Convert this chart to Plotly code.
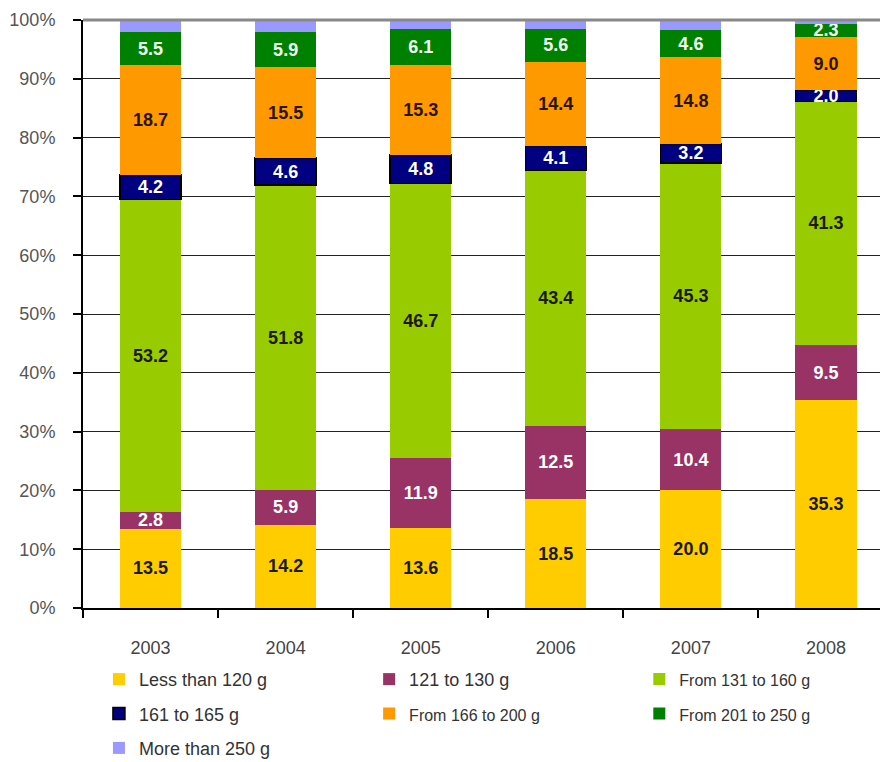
import plotly.graph_objects as go

years = ['2003', '2004', '2005', '2006', '2007', '2008']
less_120 = [13.5, 14.2, 13.6, 18.5, 20.0, 35.3]
g121_130 = [2.8, 5.9, 11.9, 12.5, 10.4, 9.5]
g131_160 = [53.2, 51.8, 46.7, 43.4, 45.3, 41.3]
g161_165 = [4.2, 4.6, 4.8, 4.1, 3.2, 2.0]
g166_200 = [18.7, 15.5, 15.3, 14.4, 14.8, 9.0]
g201_250 = [5.5, 5.9, 6.1, 5.6, 4.6, 2.3]
more_250 = [2.1, 2.1, 1.6, 1.5, 1.7, 0.6]

FONT = "Arial, Liberation Sans, sans-serif"
BIG = 18
SMALL = 16

series = [
    # name, values, fill, text colour, legend, font size, label?
    ("Less than 120 g", less_120, "#FFCC00", "#1a1a1a", "legend", BIG, True),
    ("121 to 130 g", g121_130, "#993366", "#ffffff", "legend2", BIG, True),
    ("From 131 to 160 g", g131_160, "#99CC00", "#1a1a00", "legend3", SMALL, True),
    ("161 to 165 g", g161_165, "#000080", "#ffffff", "legend", BIG, True),
    ("From 166 to 200 g", g166_200, "#FF9900", "#2a1400", "legend2", SMALL, True),
    ("From 201 to 250 g", g201_250, "#008000", "#f0fff0", "legend3", SMALL, True),
    ("More than 250 g", more_250, "#9999FF", "#000000", "legend", BIG, False),
]

fig = go.Figure()
for i, (name, vals, col, tcol, leg, fs, lab) in enumerate(series):
    is_navy = name.startswith("161")
    fig.add_trace(go.Bar(
        x=years, y=vals,
        name=f"<span style='font-size:{fs}px'>{name}</span>",
        legend=leg, legendgroup=f"g{i}",
        marker=dict(color=col,
                    line=dict(color="#000000" if is_navy else col,
                              width=1.5 if is_navy else 0)),
        text=[f"{v:.1f}" for v in vals] if lab else None,
        textposition="inside" if lab else "none",
        insidetextanchor="middle",
        textangle=0,
        textfont=dict(family=FONT, size=18, color=tcol, weight="bold"),
        hoverinfo="x+y+name",
    ))

legend_common = dict(
    orientation="v", xanchor="left", yanchor="top",
    traceorder="grouped", tracegroupgap=8,
    font=dict(family=FONT, size=BIG, color="#333333"),
    bgcolor="rgba(0,0,0,0)", borderwidth=0,
)

LEG_Y = -0.090

fig.update_layout(
    width=880, height=762,
    margin=dict(l=83, r=0, t=20, b=154, autoexpand=False),
    paper_bgcolor="white", plot_bgcolor="white",
    barmode="stack", bargap=0.548,
    font=dict(family=FONT),
    uniformtext=dict(minsize=18, mode="show"),
    showlegend=True,
    legend=dict(x=0.02, y=LEG_Y, **legend_common),
    legend2=dict(x=0.359, y=LEG_Y, **legend_common),
    legend3=dict(x=0.698, y=LEG_Y, **legend_common),
    xaxis=dict(
        type="category", range=[-0.5, 5.4],
        showgrid=False, showline=True, linecolor="#000000", linewidth=2,
        ticks="outside", tickson="boundaries", ticklen=8,
        tickcolor="#000000", tickwidth=2,
        tickfont=dict(family=FONT, size=18, color="#444444"),
        ticklabelstandoff=22,
    ),
    yaxis=dict(
        range=[0, 100], dtick=10, ticksuffix="%",
        showgrid=True, gridcolor="#222222", gridwidth=1,
        showline=True, linecolor="#000000", linewidth=2,
        ticks="outside", ticklen=8, tickcolor="#000000", tickwidth=2,
        tickfont=dict(family=FONT, size=18, color="#555555"),
        ticklabelstandoff=14, zeroline=False,
    ),
    shapes=[dict(type="line", xref="paper", yref="paper", x0=0, x1=1,
                 y0=1, y1=1, line=dict(color="#888888", width=3))],
)

fig.write_html("out.html")
